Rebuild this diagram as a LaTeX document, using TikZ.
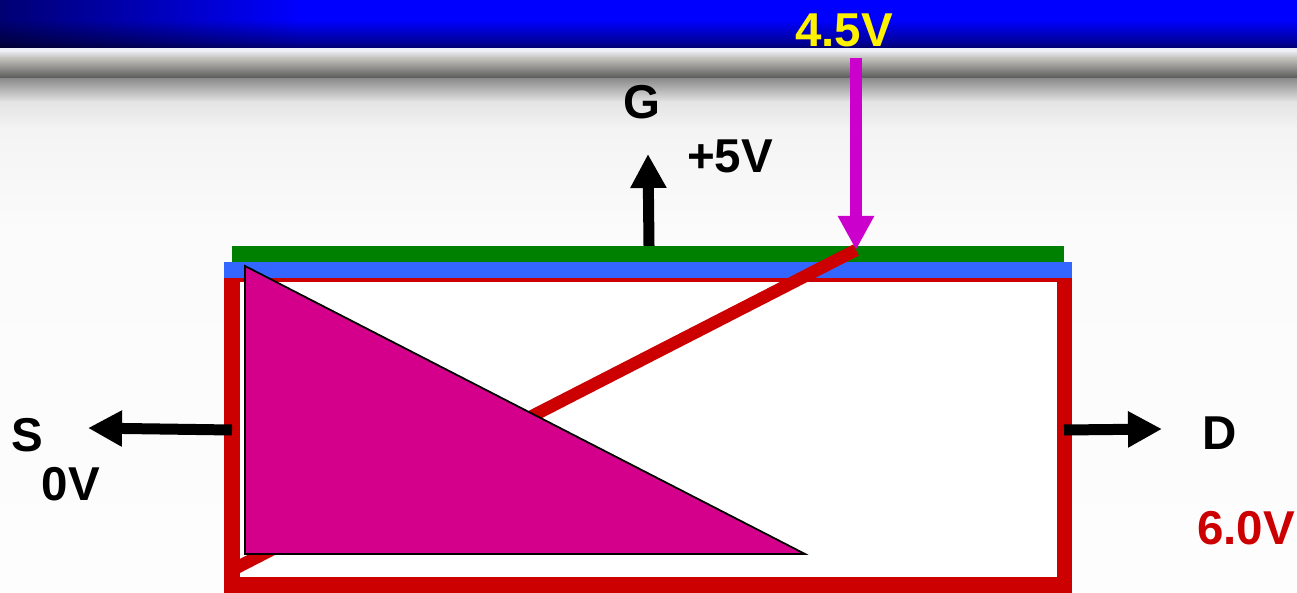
\documentclass[tikz,border=0pt]{standalone}
\usepackage{fontspec}
\setmainfont{Liberation Sans}
\usetikzlibrary{arrows.meta,fadings}
\definecolor{probecol}{HTML}{CC00CC}
\definecolor{chan}{HTML}{CC0000}
\definecolor{oxide}{HTML}{3366FF}
\definecolor{gate}{HTML}{008000}
\definecolor{wedge}{HTML}{D4008C}
\definecolor{b1}{HTML}{000099}\definecolor{b2}{HTML}{00006E}
\definecolor{g0}{HTML}{EEEEF8}\definecolor{g1}{HTML}{C4C2BC}\definecolor{g2}{HTML}{555555}
\definecolor{g3}{HTML}{8E8E8E}\definecolor{g4}{HTML}{E4E4E4}\definecolor{g5}{HTML}{F4F4F4}
\definecolor{g6}{HTML}{FBFBFB}\definecolor{g7}{HTML}{FDFDFD}
\tikzset{
  x=1pt,y=-1pt,
  lab/.style={font=\fontsize{47.5}{47.5}\selectfont\bfseries,inner sep=0pt,text=black},
  band/.style 2 args={top color=#1,bottom color=#2,draw=none},
  blackarrow/.style={draw=black,line width=11pt,-{Triangle[width=34pt,length=34pt,sep=0pt]}},
  probe/.style={draw=probecol,line width=12pt,-{Triangle[width=34pt,length=34pt,sep=0pt]}},
}
\tikzfading[name=fadeleft,left color=transparent!45,right color=transparent!100]
\begin{document}
\begin{tikzpicture}
\useasboundingbox (0,0) rectangle (1297,593);
% background
\fill[white] (0,0) rectangle (1297,593);
\fill[blue] (0,0) rectangle (1297,20.5);
\shade[band={blue}{b1}] (0,20) rectangle (1297,42);
\shade[band={b1}{b2}] (0,41.8) rectangle (1297,48);
\fill[black,path fading=fadeleft] (0,0) rectangle (300,48);
\fill[g0] (0,48) rectangle (1297,51);
\shade[band={g0}{g1}] (0,50.5) rectangle (1297,58);
\shade[band={g1}{g2}] (0,57.8) rectangle (1297,79);
\shade[band={g3}{g4}] (0,79) rectangle (1297,102);
\shade[band={g4}{g5}] (0,101.8) rectangle (1297,130);
\shade[band={g5}{g6}] (0,129.8) rectangle (1297,232);
\shade[band={g6}{g7}] (0,231.8) rectangle (1297,593);

% device
\node[fill=chan,draw=none,inner sep=0pt,minimum width=848pt,minimum height=315pt,anchor=north west] (body) at (224,278) {};
\node[fill=white,draw=none,inner sep=0pt,minimum width=817pt,minimum height=295pt,anchor=north west] (inner) at (240,282) {};
\node[fill=oxide,draw=none,inner sep=0pt,minimum width=848pt,minimum height=16pt,anchor=north west] (oxidebar) at (224,262) {};
\node[fill=gate,draw=none,inner sep=0pt,minimum width=832pt,minimum height=16pt,anchor=north west] (gatebar) at (232,246) {};

\coordinate (pinch) at (856,250);
\coordinate (srcend) at (232,570);
\coordinate (ptail) at (856,58);
\draw[probe] (ptail) -- (pinch);
\draw[chan,line width=12.5pt] (srcend) -- (pinch);
\draw[black,line width=1.8pt,fill=wedge,line join=miter] (245,266) -- (805,554) -- (245,554) -- cycle;

% arrows
\coordinate (gtail) at (649,246);
\coordinate (gtip) at (648,154);
\coordinate (stail) at (232,430);
\coordinate (stip) at (88,428);
\coordinate (dtail) at (1064,430);
\coordinate (dtip) at (1162,429);
\draw[blackarrow] (gtail) -- (gtip);
\draw[blackarrow] (stail) -- (stip);
\draw[blackarrow] (dtail) -- (dtip);

% labels
\node[lab] (g) at (642,102) {G};
\node[lab] (gv) at (730,156) {+5V};
\node[lab] (s) at (27,435) {S};
\node[lab] (sv) at (71,484) {0V};
\node[lab] (d) at (1220,433) {D};
\node[lab,text=chan] (dv) at (1246,528) {6.0V};
\node[lab,text=yellow] (pv) at (844,30) {4.5V};
\end{tikzpicture}
\end{document}
